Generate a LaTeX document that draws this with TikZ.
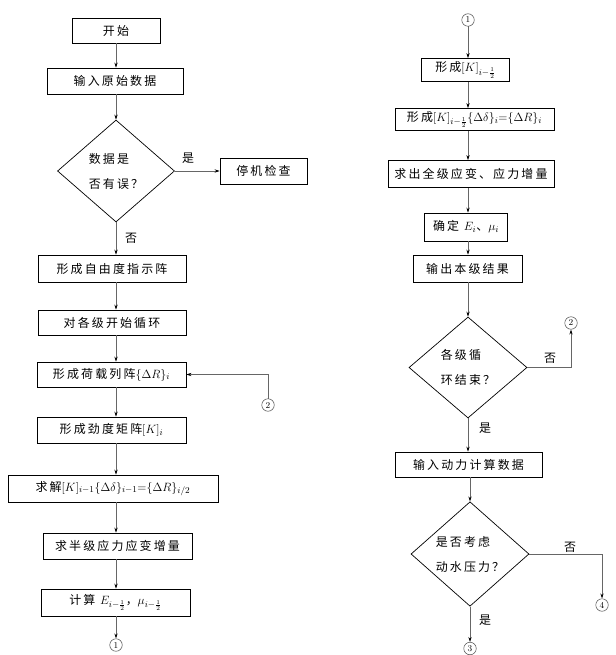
\documentclass[tikz,border=0pt]{standalone}
\usepackage{fontspec}
\usetikzlibrary{shapes.geometric,arrows.meta}
\newfontfamily\cjk[LetterSpace=18,Scale=0.92]{Noto Sans CJK SC}
\begin{document}
\begin{tikzpicture}[x=1pt,y=-1pt,
  box/.style={draw=black, line width=0.7pt, minimum height=26pt, inner sep=0pt,
    font=\cjk\fontsize{13}{15}\selectfont},
  dia/.style={draw=black, diamond, line width=0.7pt, inner sep=0pt, align=left,
    font=\cjk\fontsize{13}{25}\selectfont},
  conn/.style={draw=black!60, line width=0.6pt, -{Stealth[length=5pt,width=3.2pt,black]}},
  lbl/.style={font=\cjk\fontsize{13}{15}\selectfont, inner sep=0pt},
  cnum/.style={circle, draw=black!70, line width=0.5pt, minimum size=12.5pt, inner sep=0pt,
    font=\fontsize{9}{9}\selectfont}]
\useasboundingbox (0,0) rectangle (615,655);
\coordinate (cl) at (116,0);
\coordinate (cr) at (468,0);
% left column
\node[box, minimum width=88pt, minimum height=25pt] (start) at (116,30.5) {开始};
\node[box, minimum width=136pt] (input) at (115,81) {输入原始数据};
\node[dia, minimum width=117pt, minimum height=102pt] (d1) at (116,171) {数据是\\否有误？};
\node[box, minimum width=87pt] (stop) at (263.5,171) {停机检查};
\node[box, minimum width=148pt, minimum height=27pt] (l3) at (112,268.5) {形成自由度指示阵};
\node[box, minimum width=148pt, minimum height=25pt] (l4) at (112,322.5) {对各级开始循环};
\node[box, minimum width=149pt, minimum height=25pt] (l5) at (111.5,374.5) {形成荷载列阵$\{\Delta R\}_i$};
\node[box, minimum width=149pt] (l6) at (111.5,430) {形成劲度矩阵$[K]_i$};
\node[box, minimum width=210pt, minimum height=27pt] (l7) at (113,488.5) {求解$[K]_{i-1}\{\Delta\delta\}_{i-1}{=}\{\Delta R\}_{i/2}$};
\node[box, minimum width=149pt] (l8) at (117.5,546) {求半级应力应变增量};
\node[box, minimum width=149pt, minimum height=27pt] (l9) at (115.5,602.5) {计算 $E_{i-\frac{1}{2}}$，$\mu_{i-\frac{1}{2}}$};
\node[cnum] (c1a) at (116,645) {1};
\node[cnum] (c2a) at (268,405) {2};
% right column
\node[cnum] (c1b) at (468,20) {1};
\node[box, minimum width=88pt, minimum height=23pt] (r1) at (465.5,70) {形成$[K]_{i-\frac{1}{2}}$};
\node[box, minimum width=159pt, minimum height=22pt] (r2) at (474.5,119.5) {形成$[K]_{i-\frac{1}{2}}\{\Delta\delta\}_i{=}\{\Delta R\}_i$};
\node[box, minimum width=166pt, minimum height=27pt] (r3) at (471,174) {求出全级应变、应力增量};
\node[box, minimum width=83pt, minimum height=28pt] (r4) at (466,227) {确定 $E_i$、$\mu_i$};
\node[box, minimum width=109pt, minimum height=27pt] (r5) at (467.5,268.5) {输出本级结果};
\node[dia, minimum width=118pt, minimum height=101pt] (d2) at (468,367.5) {各级循\\环结束？};
\node[cnum] (c2b) at (571,323) {2};
\node[box, minimum width=147pt, minimum height=25pt] (r6) at (468.5,464.5) {输入动力计算数据};
\node[dia, minimum width=118pt, minimum height=102pt] (d3) at (470,554) {是否考虑\\动水压力？};
\node[cnum] (c4) at (602,605) {4};
\node[cnum] (c3) at (470,648.5) {3};
% labels
\node[lbl] (yes1) at (188,158) {是};
\node[lbl] (no1) at (131,238) {否};
\node[lbl] (no2) at (550,358) {否};
\node[lbl] (yes2) at (485,428) {是};
\node[lbl] (no3) at (570,547) {否};
\node[lbl] (yes3) at (485,620) {是};
% connectors left
\draw[conn] (start.south -| cl) -- (input.north -| cl);
\draw[conn] (input.south -| cl) -- (d1.north);
\draw[conn] (d1.east) -- (stop.west);
\draw[conn] (d1.south) -- (l3.north -| cl);
\draw[conn] (l3.south -| cl) -- (l4.north -| cl);
\draw[conn] (l4.south -| cl) -- (l5.north -| cl);
\draw[conn] (c2a.north) |- (l5.east);
\draw[conn] (l5.south -| cl) -- (l6.north -| cl);
\draw[conn] (l6.south -| cl) -- (l7.north -| cl);
\draw[conn] (l7.south -| cl) -- (l8.north -| cl);
\draw[conn] (l8.south -| cl) -- (l9.north -| cl);
\draw[conn] (l9.south -| cl) -- (c1a.north);
% connectors right
\draw[conn] (c1b.south) -- (r1.north -| cr);
\draw[conn] (r1.south -| cr) -- (r2.north -| cr);
\draw[conn] (r2.south -| cr) -- (r3.north -| cr);
\draw[conn] (r3.south -| cr) -- (r4.north -| cr);
\draw[conn] (r4.south -| cr) -- (r5.north -| cr);
\draw[conn] (r5.south -| cr) -- (d2.north);
\draw[conn] (d2.east) -| (c2b.south);
\draw[conn] (d2.south) -- (r6.north -| cr);
\draw[conn] (r6.south -| d3) -- (d3.north);
\draw[conn] (d3.east) -| (c4.north);
\draw[conn] (d3.south) -- (c3.north);
\end{tikzpicture}
\end{document}
